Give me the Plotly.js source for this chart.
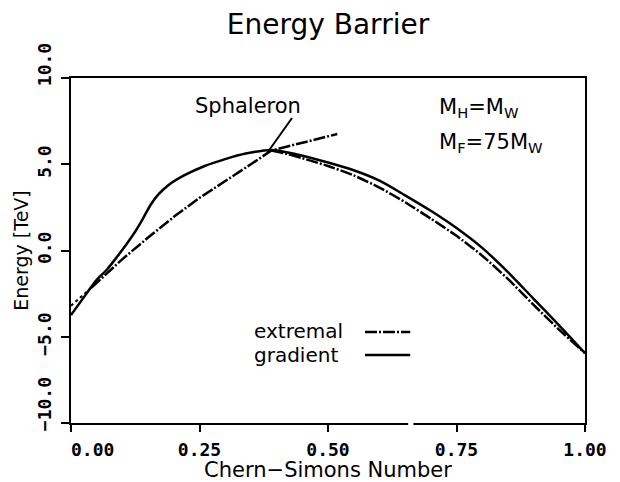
<!DOCTYPE html>
<html>
<head>
<meta charset="utf-8">
<script src="https://cdn.plot.ly/plotly-3.0.1.min.js"></script>
<style>html,body{margin:0;padding:0;background:#fff;}#chart{width:620px;height:482px;}</style>
</head>
<body>
<div id="chart"></div>
<script>
// Gradient (solid) curve
const gradX = [0, 0.03, 0.05, 0.07, 0.09, 0.11, 0.125, 0.14, 0.155, 0.17, 0.19, 0.22, 0.26, 0.3, 0.34, 0.39, 0.44, 0.5, 0.55, 0.6, 0.65, 0.7, 0.75, 0.8, 0.85, 0.9, 0.95, 1.0];
const gradY = [-3.74, -2.5, -1.7, -1.1, -0.35, 0.45, 1.1, 1.85, 2.65, 3.25, 3.8, 4.35, 4.9, 5.3, 5.62, 5.83, 5.57, 5.1, 4.65, 4.05, 3.2, 2.3, 1.3, 0.15, -1.25, -2.8, -4.35, -5.95];
// Extremal curve: dotted start, rising branch, descending branch
const extStartX = [0, 0.02, 0.04];
const extStartY = [-3.2, -2.68, -2.15];
const extRiseX = [0.04, 0.06, 0.1, 0.15, 0.2, 0.25, 0.3, 0.35, 0.39, 0.43, 0.47, 0.518];
const extRiseY = [-2.15, -1.6, -0.5, 0.75, 1.95, 3.05, 4.0, 5.0, 5.8, 6.1, 6.4, 6.75];
const extFallX = [0.39, 0.42, 0.45, 0.5, 0.55, 0.6, 0.65, 0.7, 0.75, 0.8, 0.85, 0.9, 0.95, 1.0];
const extFallY = [5.8, 5.6, 5.35, 4.9, 4.35, 3.65, 2.8, 1.85, 0.85, -0.3, -1.65, -3.15, -4.6, -5.95];
// Ticks (figure spaces nudge the corner labels apart, as in the original)
const FS = '\u2007';
const xTicks = [0, 0.25, 0.5, 0.75, 1.0];
const xTickText = [FS + FS + FS + FS + '0.00', '0.25', '0.50', '0.75', '1.00'];
const yTicks = [-10, -5, 0, 5, 10];
const yTickText = [FS + FS + FS + '\u221210.0', '\u22125.0', '0.0', '5.0', FS + FS + '10.0'];
// Sphaleron pointer
const sphPointerX = [0.430, 0.383];
const sphPointerY = [7.68, 5.71];

const DASHDOT = '12px,2px,2px,2px';
const sans = 'DejaVu Sans, sans-serif';
const mono = 'DejaVu Sans Mono, monospace';

const traces = [
  {x: gradX, y: gradY, mode: 'lines', name: 'gradient', line: {color: '#000', width: 2.5, shape: 'spline', smoothing: 0.8}},
  {x: extStartX, y: extStartY, mode: 'lines', name: 'extremal start', line: {color: '#000', width: 2, dash: 'dot'}},
  {x: extRiseX, y: extRiseY, mode: 'lines', name: 'extremal', line: {color: '#000', width: 2.5, dash: DASHDOT}},
  {x: extFallX, y: extFallY, mode: 'lines', name: 'extremal descending', line: {color: '#000', width: 2.5, dash: DASHDOT, shape: 'spline', smoothing: 0.6}}
];

const layout = {
  width: 620, height: 482,
  margin: {l: 71, r: 35, t: 78, b: 59},
  paper_bgcolor: '#fff', plot_bgcolor: '#fff',
  showlegend: false,
  title: {text: 'Energy Barrier', x: 0.5, xref: 'paper', y: 0.95, yref: 'container', yanchor: 'middle',
          font: {family: sans, size: 28, color: '#000'}},
  xaxis: {
    range: [0, 1], tickvals: xTicks, ticktext: xTickText,
    showgrid: false, zeroline: false, showline: true, mirror: true, linecolor: '#000', linewidth: 2,
    ticks: 'outside', ticklen: 7, tickwidth: 2, tickcolor: '#000',
    tickfont: {family: mono, size: 18, color: '#000', weight: 'bold'}, ticklabelstandoff: 2,
    title: {text: 'Chern\u2212Simons Number', font: {family: sans, size: 21, color: '#000'}, standoff: 6}
  },
  yaxis: {
    range: [-10, 10], tickvals: yTicks, ticktext: yTickText, tickangle: -90,
    showgrid: false, zeroline: false, showline: true, mirror: true, linecolor: '#000', linewidth: 2,
    ticks: 'outside', ticklen: 8, tickwidth: 2, tickcolor: '#000',
    tickfont: {family: mono, size: 18, color: '#000', weight: 'bold'}, ticklabelstandoff: 3,
    title: {text: 'Energy [TeV]', font: {family: sans, size: 19, color: '#000'}, standoff: 0}
  },
  shapes: [
    {type: 'line', xref: 'x', yref: 'y', x0: sphPointerX[0], y0: sphPointerY[0], x1: sphPointerX[1], y1: sphPointerY[1],
     line: {color: '#000', width: 2}},
    {type: 'line', xref: 'paper', yref: 'paper', x0: 0.572, x1: 0.660, y0: 0.264, y1: 0.264,
     line: {color: '#000', width: 2.5, dash: DASHDOT}},
    {type: 'line', xref: 'paper', yref: 'paper', x0: 0.572, x1: 0.660, y0: 0.197, y1: 0.197,
     line: {color: '#000', width: 2.5}},
    {type: 'rect', xref: 'paper', yref: 'paper', x0: 0.656, x1: 0.666, y0: -0.008, y1: 0.008,
     line: {width: 0}, fillcolor: '#fff', layer: 'above'}
  ],
  annotations: [
    {text: 'Sphaleron', xref: 'paper', yref: 'paper', x: 0.344, y: 0.919, xanchor: 'center', yanchor: 'middle',
     showarrow: false, font: {family: sans, size: 21, color: '#000'}},
    {text: 'M<sub>H</sub>=M<sub>W</sub>', xref: 'paper', yref: 'paper', x: 0.712, y: 0.912, xanchor: 'left', yanchor: 'middle',
     showarrow: false, font: {family: sans, size: 21, color: '#000'}},
    {text: 'M<sub>F</sub>=75M<sub>W</sub>', xref: 'paper', yref: 'paper', x: 0.712, y: 0.812, xanchor: 'left', yanchor: 'middle',
     showarrow: false, font: {family: sans, size: 21, color: '#000'}},
    {text: 'extremal', xref: 'paper', yref: 'paper', x: 0.352, y: 0.268, xanchor: 'left', yanchor: 'middle',
     showarrow: false, font: {family: sans, size: 20, color: '#000'}},
    {text: 'gradient', xref: 'paper', yref: 'paper', x: 0.352, y: 0.197, xanchor: 'left', yanchor: 'middle',
     showarrow: false, font: {family: sans, size: 20, color: '#000'}}
  ]
};

Plotly.newPlot('chart', traces, layout, {staticPlot: true, displayModeBar: false});
</script>
</body>
</html>
